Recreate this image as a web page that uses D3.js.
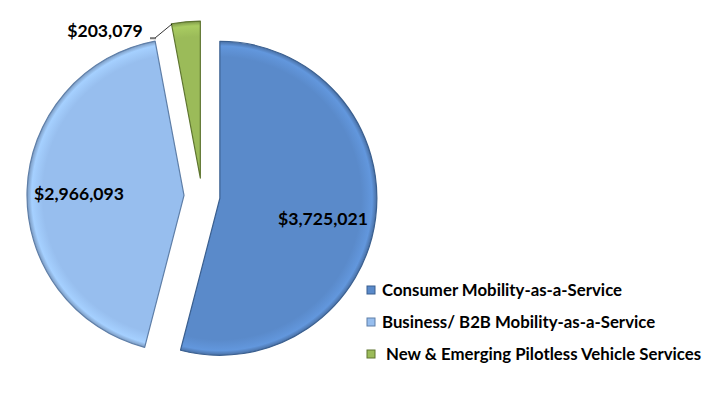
<!DOCTYPE html>
<html><head><meta charset="utf-8">
<script src="https://cdn.jsdelivr.net/npm/d3@7"></script>
<style>body{margin:0;background:#fff}svg{display:block}</style>
</head><body>
<script>
const categories = ["Consumer Mobility-as-a-Service","Business/ B2B Mobility-as-a-Service","New & Emerging Pilotless Vehicle Services"];
const values = [3725021, 2966093, 203079];
const legendLabels = ["Consumer Mobility-as-a-Service","Business/ B2B Mobility-as-a-Service"," New & Emerging Pilotless Vehicle Services"];
const colors = ["#5A8ACA","#97BEEE","#9BBB59"];
const edgeColors = ["#3A5F8F","#5F7FA8","#5E7530"];

const W=726,H=414, cx=202, cy=196, R=157, explode=18;
const svg=d3.select("body").append("svg").attr("width",W).attr("height",H);
const defs=svg.append("defs");
colors.forEach((c,i)=>{
  const g=defs.append("radialGradient").attr("id","g"+i).attr("gradientUnits","userSpaceOnUse")
    .attr("cx",0).attr("cy",0).attr("r",R);
  g.append("stop").attr("offset","0%").attr("stop-color",c);
  g.append("stop").attr("offset","90%").attr("stop-color",c);
  g.append("stop").attr("offset","97%").attr("stop-color",d3.color(c).brighter(0.25));
  g.append("stop").attr("offset","100%").attr("stop-color",d3.color(c).darker(0.6));
});
const pie=d3.pie().sort(null).value(d=>d);
const arcs=pie(values);
const arc=d3.arc().innerRadius(0).outerRadius(R);
const fmt=v=>"$"+d3.format(",")(v);
const g=svg.append("g").attr("transform",`translate(${cx},${cy})`);
arcs.forEach((a,i)=>{
  const mid=(a.startAngle+a.endAngle)/2;
  const dx=Math.sin(mid)*explode, dy=-Math.cos(mid)*explode;
  const sg=g.append("g").attr("transform",`translate(${dx},${dy})`);
  sg.append("path").attr("d",arc(a)).attr("fill",`url(#g${i})`)
    .attr("stroke",edgeColors[i]).attr("stroke-width",1.2).attr("stroke-linejoin","round");
});
const labelFont="Lato, 'Open Sans', sans-serif";
const lab=[[323,225,"middle"],[79,200,"middle"],[105,37,"middle"]];
arcs.forEach((a,i)=>{
  svg.append("text").attr("x",lab[i][0]).attr("y",lab[i][1]).attr("text-anchor",lab[i][2])
    .attr("font-family",labelFont).attr("font-weight","bold").attr("font-size",17.6)
    .attr("fill","#000").text(fmt(values[i]));
});
svg.append("polyline").attr("points","150,38 155,38 172,24").attr("fill","none")
  .attr("stroke","#000").attr("stroke-width",0.8);
svg.append("line").attr("x1",150).attr("y1",38.5).attr("x2",156).attr("y2",38.5).attr("stroke","#777").attr("stroke-width",1.5);
const ly=[290,322,354];
categories.forEach((c,i)=>{
  svg.append("rect").attr("x",367).attr("y",ly[i]-4).attr("width",8).attr("height",8)
    .attr("fill",colors[i]).attr("stroke",edgeColors[i]).attr("stroke-width",1);
  svg.append("text").attr("x",382).attr("y",ly[i]).attr("dy","0.35em")
    .attr("font-family",labelFont).attr("font-weight","bold").attr("font-size",16.8)
    .attr("fill","#000").attr("xml:space","preserve").style("white-space","pre").text(legendLabels[i]);
});
</script>
</body></html>
